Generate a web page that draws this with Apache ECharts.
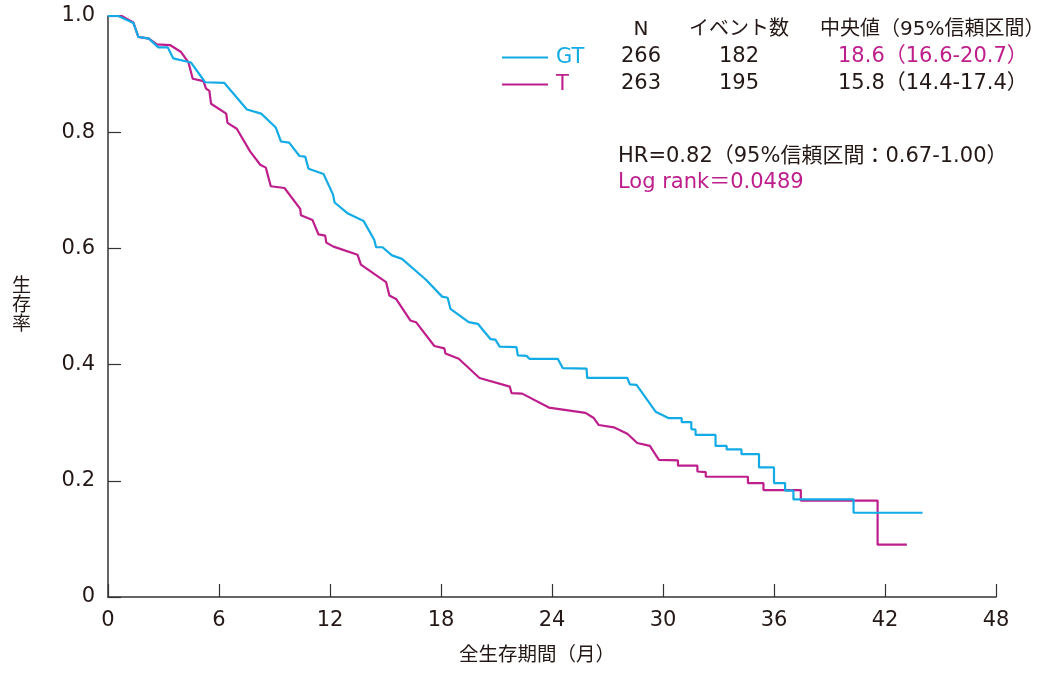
<!DOCTYPE html>
<html>
<head>
<meta charset="utf-8">
<title>全生存期間</title>
<script src="https://cdn.jsdelivr.net/npm/echarts/dist/echarts.min.js"></script>
<style>
  html, body { margin: 0; padding: 0; background: #fff; }
  #chart { width: 1040px; height: 673px; }
</style>
</head>
<body>
<div id="chart"></div>
<script>
  // 生存曲線 (読み取り値)
  const gtMonths = [0, 0.56, 1.37, 1.64, 2.21, 2.72, 3.23, 3.53, 4.48, 5.25, 6.28, 7.51, 8.28, 9.07, 9.35, 9.79,
    10.35, 10.66, 10.84, 11.65, 12.16, 12.25, 12.97, 13.82, 14.39, 14.49, 14.84, 15.35, 15.89, 17.19, 18.06,
    18.36, 18.51, 19.5, 20.0, 20.67, 20.94, 21.17, 22.08, 22.15, 22.62, 22.78, 24.31, 24.58, 25.87, 25.9,
    28.07, 28.21, 28.57, 29.6, 30.29, 31.01, 31.01, 31.53, 31.53, 31.76, 31.76, 32.84, 32.84, 33.44, 33.44,
    34.24, 34.24, 35.19, 35.19, 36.0, 36.0, 36.6, 36.6, 37.05, 37.05, 40.3, 40.3, 44.03];
  const gtSurv = [1.0, 1.0, 0.988, 0.964, 0.961, 0.946, 0.946, 0.927, 0.92, 0.886, 0.885, 0.839, 0.832, 0.808, 0.784, 0.782,
    0.759, 0.758, 0.737, 0.728, 0.693, 0.679, 0.66, 0.647, 0.615, 0.602, 0.602, 0.588, 0.582, 0.546, 0.517,
    0.515, 0.496, 0.473, 0.47, 0.444, 0.443, 0.431, 0.43, 0.416, 0.415, 0.41, 0.41, 0.394, 0.393, 0.377,
    0.377, 0.366, 0.365, 0.319, 0.308, 0.308, 0.301, 0.301, 0.289, 0.288, 0.279, 0.279, 0.26, 0.26, 0.254,
    0.254, 0.246, 0.246, 0.223, 0.223, 0.196, 0.196, 0.183, 0.183, 0.168, 0.168, 0.145, 0.145];

  const tMonths = [0, 0.74, 1.37, 1.64, 2.21, 2.64, 3.35, 3.95, 4.35, 4.58, 5.16, 5.3, 5.48, 5.57, 6.39, 6.46, 6.96,
    7.68, 8.23, 8.53, 8.8, 9.54, 10.39, 10.43, 11.05, 11.38, 11.74, 11.8, 12.19, 13.49, 13.67, 15.03, 15.21,
    15.57, 16.34, 16.65, 17.64, 18.18, 18.24, 18.96, 20.08, 21.72, 21.81, 22.39, 23.83, 25.81, 26.26, 26.53,
    27.34, 28.07, 28.61, 29.29, 29.78, 30.81, 30.81, 31.86, 31.86, 32.31, 32.31, 34.59, 34.59, 35.43, 35.43,
    37.45, 37.45, 41.6, 41.6, 43.18];
  const tSurv = [1.0, 1.0, 0.989, 0.964, 0.961, 0.951, 0.95, 0.938, 0.92, 0.892, 0.888, 0.875, 0.871, 0.849, 0.832, 0.816, 0.806,
    0.767, 0.744, 0.739, 0.707, 0.704, 0.668, 0.657, 0.649, 0.624, 0.622, 0.61, 0.603, 0.589, 0.572, 0.542, 0.519,
    0.513, 0.476, 0.473, 0.432, 0.428, 0.419, 0.41, 0.377, 0.362, 0.351, 0.35, 0.326, 0.317, 0.308, 0.296,
    0.292, 0.281, 0.265, 0.26, 0.236, 0.235, 0.226, 0.226, 0.216, 0.215, 0.207, 0.207, 0.196, 0.196, 0.184,
    0.184, 0.166, 0.166, 0.09, 0.09];

  // 表
  const groups = ['GT', 'T'];
  const nValues = ['266', '263'];
  const eventValues = ['182', '195'];
  const medianValues = ['18.6（16.6-20.7）', '15.8（14.4-17.4）'];
  const hrText = 'HR=0.82（95%信頼区間：0.67-1.00）';
  const logRankText = 'Log rank＝0.0489';

  const BLUE = '#13abe5';
  const MAGENTA = '#be1e8c';
  const INK = '#231815';
  const FONT = '"DejaVu Sans", "Noto Sans CJK JP", sans-serif';

  const chart = echarts.init(document.getElementById('chart'));

  const zip = (xs, ys) => xs.map((x, i) => [x, ys[i]]);

  const txt = (text, x, y, color, align, size) => ({
    type: 'text',
    x: x,
    y: y,
    style: {
      text: text,
      fill: color || INK,
      font: (size || 21) + 'px ' + FONT,
      align: align || 'left',
      verticalAlign: 'middle'
    }
  });

  const graphics = [
    txt('N', 641, 30, INK, 'center', 20),
    txt('イベント数', 739, 30, INK, 'center', 20),
    txt('中央値（95%信頼区間）', 820, 30, INK, 'left', 20)
  ];
  groups.forEach((g, i) => {
    const y = 57 + i * 27;
    graphics.push(txt(nValues[i], 641, y, INK, 'center'));
    graphics.push(txt(eventValues[i], 739, y, INK, 'center'));
    graphics.push(txt(medianValues[i], 838, y, i === 0 ? MAGENTA : INK, 'left'));
  });
  graphics.push(txt(hrText, 618, 157, INK, 'left'));
  graphics.push(txt(logRankText, 618, 183, MAGENTA, 'left'));

  chart.setOption({
    backgroundColor: '#fff',
    animation: false,
    textStyle: { fontFamily: FONT },
    grid: {
      left: 108,
      right: 44,
      top: 16,
      bottom: 76
    },
    legend: {
      orient: 'vertical',
      left: 497,
      top: 42,
      itemWidth: 46,
      itemHeight: 2,
      itemGap: 6,
      icon: 'rect',
      data: [
        { name: 'GT', textStyle: { color: BLUE } },
        { name: 'T', textStyle: { color: MAGENTA } }
      ],
      textStyle: {
        fontSize: 21,
        lineHeight: 21,
        padding: [0, 0, 0, 3]
      }
    },
    xAxis: {
      type: 'value',
      min: 0,
      max: 48,
      interval: 6,
      name: '全生存期間（月）',
      nameLocation: 'middle',
      nameGap: 49,
      nameTextStyle: { fontSize: 19.5, color: INK, padding: [0, 30, 0, 0] },
      axisLine: { show: true, lineStyle: { color: '#333', width: 1.5 } },
      axisTick: { show: true, inside: true, length: 13, lineStyle: { color: '#333', width: 1.2 } },
      axisLabel: { fontSize: 21, color: INK, margin: 13 },
      splitLine: { show: false }
    },
    yAxis: {
      type: 'value',
      min: 0,
      max: 1,
      interval: 0.2,
      name: '生\n存\n率',
      nameLocation: 'middle',
      nameRotate: 0,
      nameGap: 77,
      nameTextStyle: { fontSize: 19, color: INK, lineHeight: 19, padding: [0, 0, 60, 0] },
      axisLine: { show: true, lineStyle: { color: '#333', width: 1.5 } },
      axisTick: { show: true, inside: true, length: 13, lineStyle: { color: '#333', width: 1.2 } },
      axisLabel: {
        fontSize: 21,
        color: INK,
        margin: 13,
        formatter: v => (v === 0 ? '0' : v.toFixed(1))
      },
      splitLine: { show: false }
    },
    series: [
      {
        name: 'T',
        type: 'line',
        data: zip(tMonths, tSurv),
        showSymbol: false,
        color: MAGENTA,
        lineStyle: { color: MAGENTA, width: 2.2 }
      },
      {
        name: 'GT',
        type: 'line',
        data: zip(gtMonths, gtSurv),
        showSymbol: false,
        color: BLUE,
        lineStyle: { color: BLUE, width: 2.2 }
      }
    ],
    graphic: graphics
  });
</script>
</body>
</html>
